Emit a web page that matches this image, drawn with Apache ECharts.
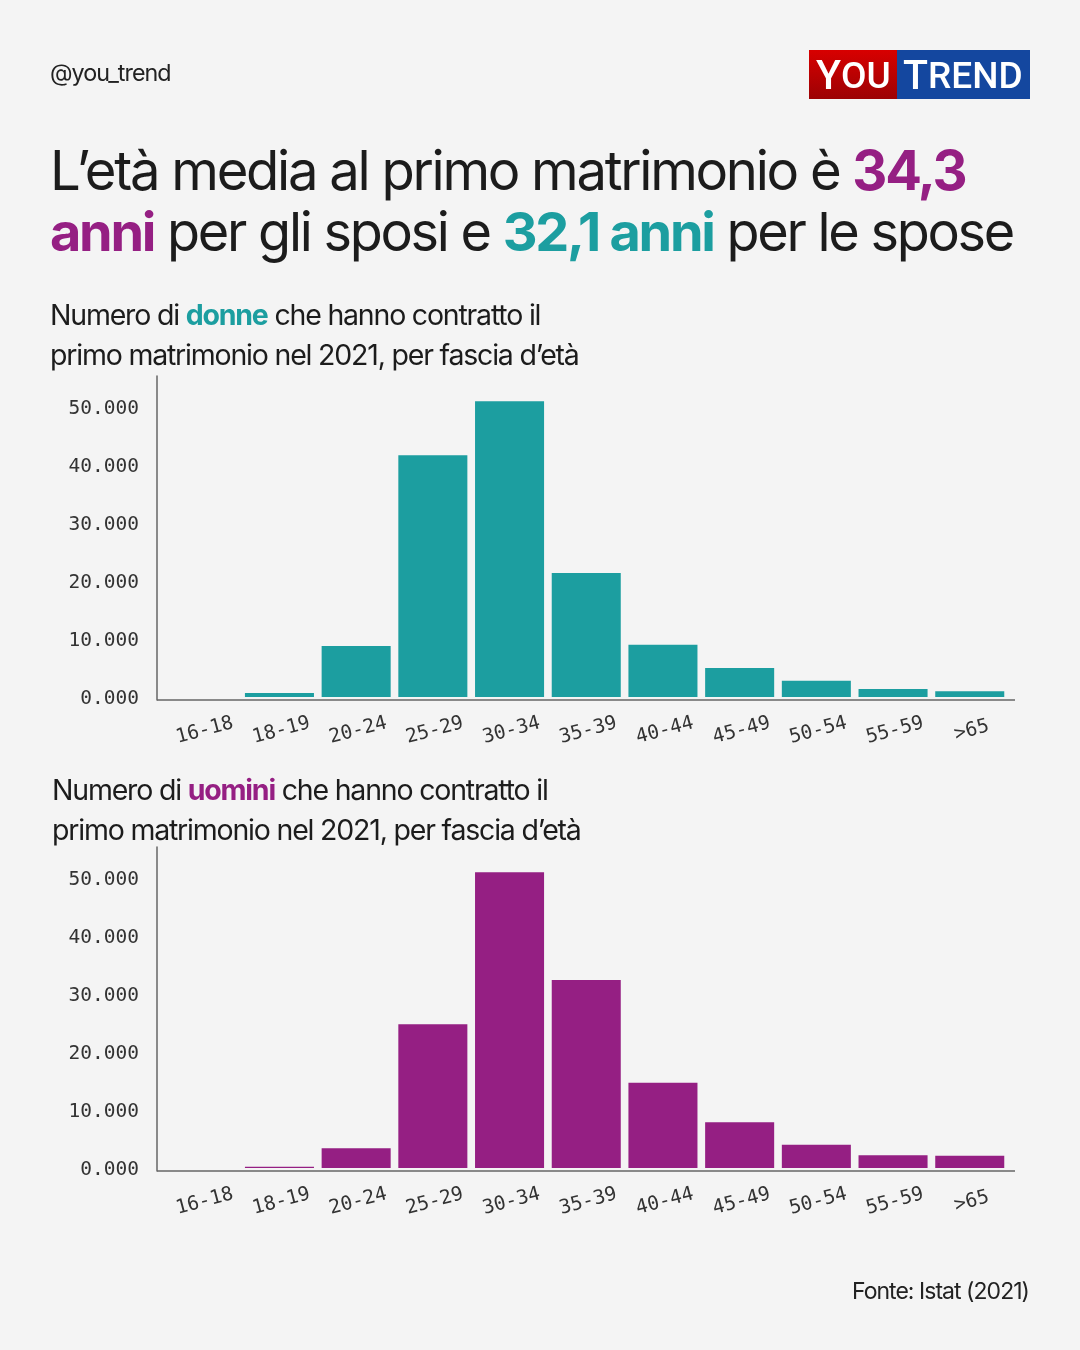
<!DOCTYPE html>
<html>
<head>
<meta charset="utf-8">
<style>html,body{margin:0;padding:0;background:#f4f4f4}#main{width:1080px;height:1350px}</style>
<script src="https://cdn.jsdelivr.net/npm/echarts@6/dist/echarts.min.js"></script>
</head>
<body>
<div id="main"></div>
<script>
var categories = ['16-18','18-19','20-24','25-29','30-34','35-39','40-44','45-49','50-54','55-59','>65'];
var donne = [0, 700, 8800, 41700, 51000, 21400, 9000, 5000, 2800, 1400, 1000];
var uomini = [0, 200, 3400, 24800, 51000, 32400, 14700, 7900, 4000, 2200, 2100];
var yTicks = [0, 10000, 20000, 30000, 40000, 50000];
var yTickLabels = ['0.000', '10.000', '20.000', '30.000', '40.000', '50.000'];

var TEAL = '#1c9ea0', PURPLE = '#951f83', INK = '#1c1c1c';
var SANS = 'Inter', MONO = 'DejaVu Sans Mono';

// testo piu' stretto: echarts non ha letterSpacing, lo mettiamo sul canvas quando cambia il font
var fontProp = Object.getOwnPropertyDescriptor(CanvasRenderingContext2D.prototype, 'font');
Object.defineProperty(CanvasRenderingContext2D.prototype, 'font', {
	get: function() { return fontProp.get.call(this); },
	set: function(v) {
		fontProp.set.call(this, v);
		var m = /([\d.]+)px/.exec(v);
		this.letterSpacing = (m && v.indexOf(SANS) >= 0) ? (-0.042 * m[1]) + 'px' : '0px';
	}
});

var myChart = echarts.init(document.getElementById('main'));

function subtitle(left, top, word, color, key) {
	var rich = {t: {fontFamily: SANS, fontSize: 28.5, fontWeight: 400, color: INK, lineHeight: 40}};
	rich[key] = {fontFamily: SANS, fontSize: 28.5, fontWeight: 700, color: color, lineHeight: 40};
	return {
		left: left, top: top, padding: 0,
		text: '{t|Numero di }{' + key + '|' + word + '}{t| che hanno contratto il}\n{t|primo matrimonio nel 2021, per fascia d’età}',
		textStyle: {rich: rich}
	};
}

var option = {
	backgroundColor: '#f4f4f4',
	animation: false,
	title: [
		{left: 50, top: 63, padding: 0, text: '@you_trend',
			textStyle: {fontFamily: SANS, fontSize: 23.3, fontWeight: 400, color: '#222'}},
		{left: 50, top: 143, padding: 0,
			text: '{a|L’età media al primo matrimonio è }{p|34,3}\n{p2|anni}{a2| per gli sposi e }{q|32,1 anni}{a2| per le spose}',
			textStyle: {rich: {
				a: {fontFamily: SANS, fontSize: 54.4, fontWeight: 400, color: INK, lineHeight: 61},
				p: {fontFamily: SANS, fontSize: 54.4, fontWeight: 700, color: PURPLE, lineHeight: 61},
				a2: {fontFamily: SANS, fontSize: 54, fontWeight: 400, color: INK, lineHeight: 61},
				p2: {fontFamily: SANS, fontSize: 54, fontWeight: 700, color: PURPLE, lineHeight: 61},
				q: {fontFamily: SANS, fontSize: 54, fontWeight: 700, color: TEAL, lineHeight: 61}
			}}},
		subtitle(50, 296, 'donne', TEAL, 'd'),
		subtitle(52, 771, 'uomini', PURPLE, 'u'),
		{right: 51, top: 1281, padding: 0, text: 'Fonte: Istat (2021)',
			textStyle: {fontFamily: SANS, fontSize: 23, fontWeight: 400, color: '#222'}}
	],
	grid: [
		{left: 164.4, width: 843.7, top: 376, height: 324},
		{left: 164.4, width: 843.7, top: 847, height: 324}
	],
	xAxis: [0, 1].map(function(i) {
		return {
			type: 'category', gridIndex: i, data: categories,
			axisLine: {show: false}, axisTick: {show: false},
			axisLabel: {interval: 0, rotate: 15, align: 'center', verticalAlign: 'middle', margin: 31, padding: [0, 0, 0, 4],
				fontFamily: MONO, fontSize: 19.5, color: '#333'}
		};
	}),
	yAxis: [0, 1].map(function(i) {
		return {
			type: 'value', gridIndex: i, min: -517, max: 55345, offset: 7.4,
			splitLine: {show: false}, axisTick: {show: false},
			axisLine: {show: true, lineStyle: {color: '#666', width: 1.5}},
			axisLabel: {customValues: yTicks, margin: 18, verticalAlign: 'middle',
				rich: {n: {fontFamily: MONO, fontSize: 19.5, color: '#333', padding: [4, 0, 0, 0]}},
				formatter: function(v) { return '{n|' + yTickLabels[yTicks.indexOf(v)] + '}'; }}
		};
	}),
	series: [
		{name: 'Donne', type: 'bar', xAxisIndex: 0, yAxisIndex: 0, data: donne, barCategoryGap: '10%', itemStyle: {color: TEAL}},
		{name: 'Uomini', type: 'bar', xAxisIndex: 1, yAxisIndex: 1, data: uomini, barCategoryGap: '10%', itemStyle: {color: PURPLE}}
	],
	graphic: [
		// estensione dell'asse x, le barre stanno piu' strette del tratto
		{type: 'line', shape: {x1: 157, y1: 700, x2: 1015, y2: 700}, style: {stroke: '#666', lineWidth: 1.5}},
		{type: 'line', shape: {x1: 157, y1: 1171, x2: 1015, y2: 1171}, style: {stroke: '#666', lineWidth: 1.5}},
		// logo
		{type: 'rect', shape: {x: 809, y: 50, width: 88, height: 49},
			style: {fill: new echarts.graphic.LinearGradient(0, 0, 0, 1, [{offset: 0, color: '#d80000'}, {offset: 1, color: '#9c0204'}])}},
		{type: 'rect', shape: {x: 897, y: 50, width: 133, height: 49}, style: {fill: '#14479f'}},
		{type: 'text', x: 816, y: 58, style: {text: '{b|Y}{s|OU}', rich: {
			b: {fontFamily: 'Roboto', fontWeight: 500, fontSize: 41, fill: '#fff'},
			s: {fontFamily: 'Roboto', fontWeight: 500, fontSize: 37, fill: '#fff'}}}},
		{type: 'text', x: 903, y: 58, style: {text: '{b|T}{s|REND}', rich: {
			b: {fontFamily: 'Roboto', fontWeight: 500, fontSize: 41, fill: '#fff'},
			s: {fontFamily: 'Roboto', fontWeight: 500, fontSize: 37, fill: '#fff'}}}}
	]
};

myChart.setOption(option);
</script>
</body>
</html>
